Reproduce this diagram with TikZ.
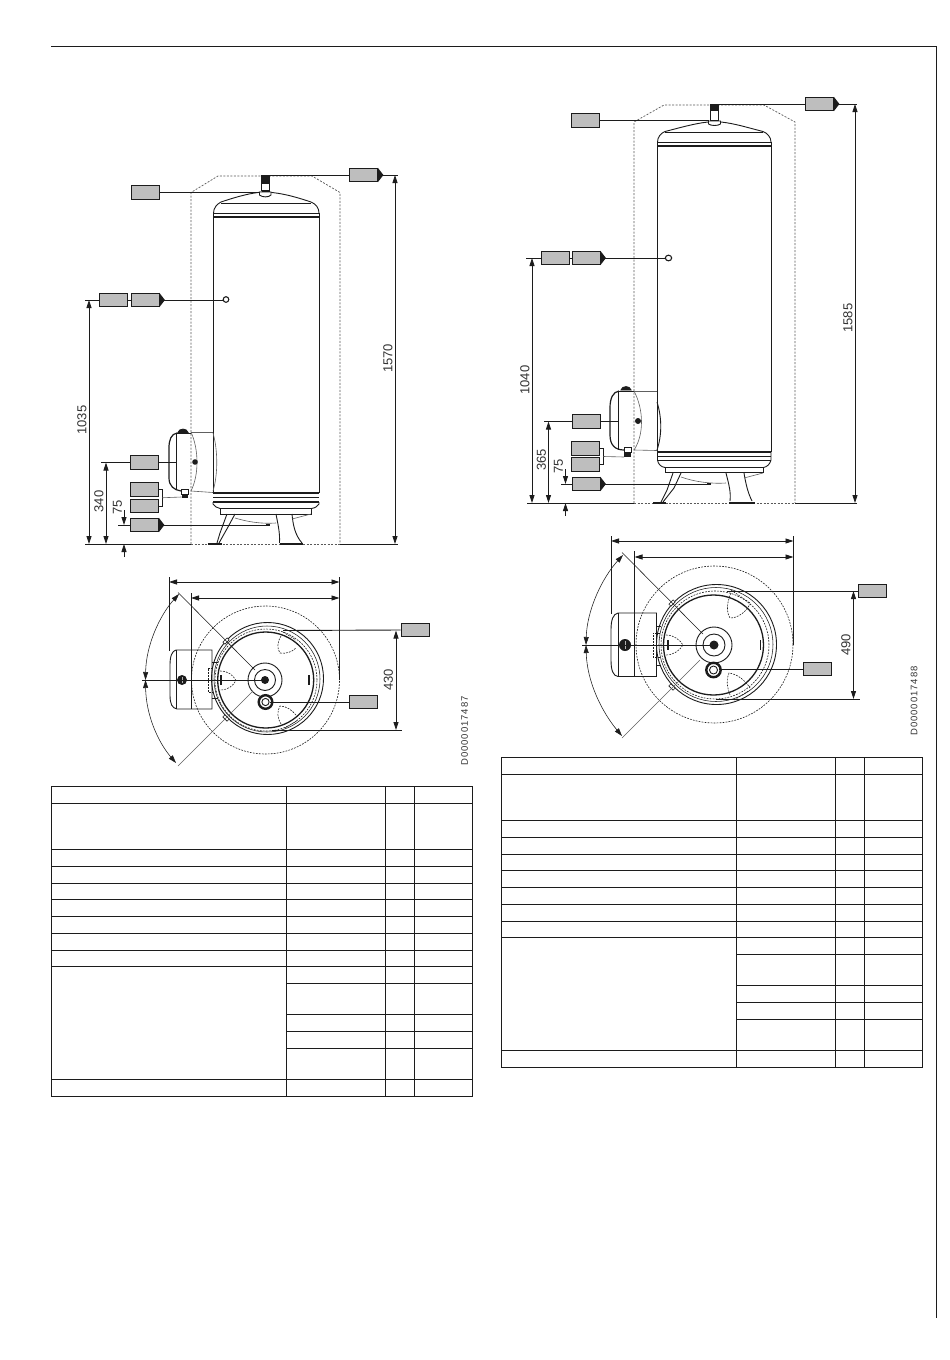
\documentclass[tikz,border=0pt]{standalone}
\usepackage{fontspec}
\setmainfont{Liberation Sans}
\newfontfamily\docfont[LetterSpace=10]{Liberation Sans}
\usetikzlibrary{arrows.meta,calc}
\definecolor{ink}{HTML}{1C1C1C}
\definecolor{boxgrey}{HTML}{BEBEBE}
\definecolor{txt}{HTML}{333333}
\newcommand{\tipR}[1]{\fill[ink] (#1.north east) -- ($(#1.east)+(5.5,0)$) -- (#1.south east) -- cycle;}
\begin{document}
\begin{tikzpicture}[x=1pt,y=-1pt,
  line cap=butt,
  ln/.style={draw=ink,line width=0.9pt},
  thin ln/.style={draw=ink,line width=0.55pt},
  thick ln/.style={draw=ink,line width=1.8pt},
  grey ln/.style={draw=gray!75!black,line width=0.6pt},
  env/.style={draw=gray!70!black,line width=0.7pt,dash pattern=on 2pt off 1.5pt},
  dsh/.style={draw=ink,line width=0.6pt,dash pattern=on 1.8pt off 1.2pt},
  greybox/.style={rectangle,draw=ink,line width=0.8pt,fill=boxgrey,minimum width=28pt,minimum height=13.5pt,inner sep=0pt},
  dimtxt/.style={font=\fontsize{13}{13}\selectfont,text=txt,rotate=90,inner sep=0pt},
  doctxt/.style={font=\fontsize{9.5}{9.5}\docfont,text=txt,rotate=90,inner sep=0pt},
  dimtip/.style={line width=0.8pt,draw=ink,{Triangle[length=8pt,width=5pt]}-{Triangle[length=8pt,width=5pt]}},
  endtip/.style={line width=0.8pt,draw=ink,-{Triangle[length=8pt,width=5pt]}},
  angtip/.style={thin ln,{Triangle[length=8pt,width=5pt]}-{Triangle[length=8pt,width=5pt]}},
  tab/.style={draw=ink,line width=0.9pt}
]
\useasboundingbox[fill=white] (0,0) rectangle (950,1360);

% page frame
\coordinate (fa) at (51,46.5); \coordinate (fb) at (936.5,46.5); \coordinate (fc) at (936.5,1318);
\draw[draw=ink,line width=1pt] (fa) -- (fb) -- (fc);

%%%%%%%%%%%%%%%%%%%%% LEFT ELEVATION %%%%%%%%%%%%%%%%%%%%%
% envelope
\draw[env] (191,544) -- (191,192.5) -- (218,176) -- (312,176) -- (340,192.5) -- (340,544);
\draw[env] (191,544) -- (340,544);
% tank
\draw[ln] (213.5,213) -- (213.5,493);
\draw[ln] (319,213) -- (319,493);
\draw[ln] (213.5,213) .. controls (213.5,208) and (217,204) .. (221,202) .. controls (233,198) and (246,194) .. (258,192.5) .. controls (263,191.8) and (268,191.8) .. (272,192.5) .. controls (286,194) and (299,198) .. (311,202) .. controls (316,204) and (319,208) .. (319,213);
\draw[ln] (221,203.5) -- (311,203.5);
\draw[thin ln] (213,213) -- (319,213);
\draw[thick ln] (213,217) -- (319,217);
\draw[thick ln] (213,493) -- (319,493);
\draw[thin ln] (213,497) -- (319,497);
\draw[thick ln] (213,502) -- (319,502);
\draw[ln] (213,502) -- (213,504) .. controls (214,506) and (217,508) .. (220,508.5);
\draw[ln] (319,502) -- (319,504) .. controls (318,506) and (315,508) .. (311.5,508.5);
\draw[ln] (220,508.5) rectangle (311.5,514);
% stem and cap
\fill[ink] (261,175) rectangle (270,183);
\draw[ln,fill=white] (261.5,183) rectangle (269.5,190);
\fill[ink] (261.5,189.5) rectangle (269.5,191.5);
\draw[ln,fill=white] (259.5,192) -- (271,192) -- (271,195) .. controls (269,197.5) and (262,197.5) .. (259.5,195) -- cycle;
% feet
\draw[ln] (227,514) -- (220,533) -- (217,543);
\draw[ln] (235,514) -- (228,527) -- (219,543);
\draw[thick ln] (208,544) -- (222,544);
\draw[ln] (276,514) .. controls (278,525) and (280,532) .. (279.5,543);
\draw[ln] (292,514) .. controls (293,525) and (295,535) .. (302,543);
\draw[thick ln] (280,544) -- (303,544);
\draw[grey ln] (235,518) .. controls (248,522) and (262,524) .. (276,523);
\draw[grey ln] (292,519) -- (311,514);
% heater module
\draw[draw=ink,line width=1.2pt] (177,433) .. controls (171,434) and (169,440) .. (169,448) -- (169,478) .. controls (169,486) and (174,490) .. (181,491);
\draw[ln] (176.5,433) -- (176.5,490);
\draw[ln,fill=ink] (178,432.5) .. controls (179,428) and (187,428) .. (188,432.5) -- cycle;
\draw[ln] (176.5,433) -- (191,433);
\draw[grey ln] (191,432) -- (213,432);
\draw[grey ln] (191,491) -- (213,492.5);
\draw[grey ln] (191,432) .. controls (199,450) and (199,475) .. (191,491);
\draw[grey ln] (213,433) .. controls (218,450) and (218,475) .. (213,491);
\fill[ink] (195,462) circle[radius=2.8pt];
\draw[ln,fill=white] (181.5,489) rectangle (188,494);
\fill[ink] (181.5,493.5) rectangle (188,497.5);
\draw[draw=ink,line width=1.1pt,fill=white] (226,299.5) circle[radius=2.8pt];

% boxes
\node[greybox] (L1) at (363.5,175) {};
\node[greybox] (L2) at (145,192.5) {};
\node[greybox] (L3) at (113,300) {};
\node[greybox] (L4) at (145,300) {};
\node[greybox] (L5) at (144.5,462.5) {};
\node[greybox] (L6) at (144.5,489.5) {};
\node[greybox] (L7) at (144.5,506) {};
\node[greybox] (L8) at (144.5,525) {};
\tipR{L1}\tipR{L4}\tipR{L8}
\coordinate (Ltop) at (270,175);
\coordinate (Ltopr) at (398,175);
\coordinate (Lcap) at (259.5,192.5);
\coordinate (Lsens) at (223,300);
\coordinate (Ll) at (85,300);
\coordinate (Lmod) at (176.5,462.5);
\coordinate (Lmodl) at (101,462.5);
\coordinate (Lval) at (181.5,497);
\coordinate (Lpipe) at (268,525);
\coordinate (Lpipel) at (118,525);
\coordinate (Lb1) at (85,544);
\coordinate (Lb2) at (191,544);
\coordinate (Lb3) at (340,544);
\coordinate (Lb4) at (398,544);
\draw[ln] (Ltop) -- (L1.west);
\draw[ln] (L1.east) -- (Ltopr);
\draw[ln] (L2.east) -- (Lcap);
\draw[ln] (L4.east) -- (Lsens);
\draw[ln] (L3.east) -- (L4.west);
\draw[ln] (Ll) -- (L3.west);
\draw[ln] (L5.east) -- (Lmod);
\draw[ln] (Lmodl) -- (L5.west);
\draw[ln] (L6.east) -- ++(3.5,0) |- (L7.east);
\draw[grey ln] ($(L6.east)!0.5!(L7.east)+(3.5,0)$) -- (Lval);
\draw[ln] (L8.east) -- (Lpipe);
\draw[ln] (Lpipel) -- (L8.west);
\fill[ink] (266,523.5) rectangle (270,526);
\draw[ln] (Lb1) -- (Lb2);
\draw[ln] (Lb3) -- (Lb4);
% dims
\coordinate (Ld1a) at (395,175); \coordinate (Ld1b) at (395,544);
\draw[dimtip] (Ld1a) -- (Ld1b);
\node[dimtxt] (T1570) at (388,358.5) {1570};
\coordinate (Ld2a) at (89,300); \coordinate (Ld2b) at (89,544);
\draw[dimtip] (Ld2a) -- (Ld2b);
\node[dimtxt] (T1035) at (82,420) {1035};
\coordinate (Ld3a) at (106,462.5); \coordinate (Ld3b) at (106,544);
\draw[dimtip] (Ld3a) -- (Ld3b);
\node[dimtxt] (T340) at (99,501.5) {340};
\coordinate (Ld4a) at (124,510); \coordinate (Ld4b) at (124,525);
\coordinate (Ld4c) at (124,557); \coordinate (Ld4d) at (124,544);
\draw[endtip] (Ld4a) -- (Ld4b);
\draw[endtip] (Ld4c) -- (Ld4d);
\node[dimtxt] (T75a) at (117.5,507) {75};

%%%%%%%%%%%%%%%%%%%%% LEFT PLAN %%%%%%%%%%%%%%%%%%%%%
% module top view
\draw[ln,fill=white] (212,650) -- (176,650) .. controls (172,651) and (170,656) .. (170,665) -- (170,695) .. controls (170,704) and (172,708) .. (177,709) -- (212,709) -- cycle;
\draw[ln] (176.5,650) -- (176.5,709);
\draw[ln] (212,662) -- (218,662);
\draw[ln] (212,698) -- (218,698);
\fill[ink] (182,680) circle[radius=5pt];
\draw[draw=gray!60,line width=0.4pt] (179,680) -- (185,680) (182,677) -- (182,683);
% rings
\draw[dsh] (265.5,680) circle[radius=74pt];
\draw[ln] (267.5,678.5) circle[radius=56pt];
\draw[thin ln] (267,679) circle[radius=53pt];
\draw[dsh] (266,680) circle[radius=51pt];
\draw[line width=1.3pt,draw=ink] (265.7,680) circle[radius=48pt];
\draw[ln] (265,680) circle[radius=17pt];
\draw[ln] (265,680) circle[radius=10.5pt];
\fill[ink] (265,680) circle[radius=4pt];
\draw[line width=2.4pt,draw=ink,fill=white] (265.5,702) circle[radius=6.8pt];
\draw[ln] (265.5,702) circle[radius=3.6pt];
% notches, bars, cups
\draw[thin ln,fill=white,rotate around={45:(226,641)}] (223,639.5) rectangle (229,642.5);
\draw[thin ln,fill=white,rotate around={-45:(226,718)}] (223,716.5) rectangle (229,719.5);
\draw[line width=1.2pt,draw=ink] (221,675) -- (221,685);
\draw[line width=1.2pt,draw=ink] (309,675) -- (309,685);
\draw[dsh] (220,671) .. controls (228,671) and (233,675) .. (236,680.5) .. controls (233,686) and (228,690) .. (220,690);
\draw[dsh] (213,668) -- (208,668) -- (208,692) -- (213,692);
\draw[dsh] (281,636) .. controls (277,642) and (277,649) .. (280,653) .. controls (286,654) and (292,652) .. (296,648);
\draw[dsh] (283,632) -- (296,640);
\draw[dsh] (281,724) .. controls (277,718) and (277,711) .. (280,706) .. controls (286,706) and (292,710) .. (296,715);
\draw[dsh] (285,728) -- (298,720);
% plan boxes and dims
\node[greybox] (L9) at (415,630) {};
\node[greybox] (L10) at (363,702) {};
\coordinate (Lpa) at (283,630.5);
\coordinate (Lpb) at (270,702);
\coordinate (Lpc) at (272,730);
\coordinate (Lpd) at (402,730);
\draw[ln] (Lpa) -- (L9.west);
\draw[ln] (Lpb) -- (L10.west);
\draw[ln] (Lpc) -- (Lpd);
\coordinate (Ld5a) at (396,630.5); \coordinate (Ld5b) at (396,730);
\draw[dimtip] (Ld5a) -- (Ld5b);
\node[dimtxt] (T430) at (388.5,680) {430};
\coordinate (Le1a) at (169,577); \coordinate (Le1b) at (169,651);
\coordinate (Le2a) at (191,593); \coordinate (Le2b) at (191,709);
\coordinate (Le3a) at (339.5,577); \coordinate (Le3b) at (339.5,680);
\draw[ln] (Le1a) -- (Le1b);
\draw[ln] (Le2a) -- (Le2b);
\draw[ln] (Le3a) -- (Le3b);
\coordinate (Ld6a) at (169,582); \coordinate (Ld6b) at (339.5,582);
\draw[dimtip] (Ld6a) -- (Ld6b);
\coordinate (Ld7a) at (191,598); \coordinate (Ld7b) at (339.5,598);
\draw[dimtip] (Ld7a) -- (Ld7b);
\coordinate (Lra) at (178,592.5); \coordinate (Lrb) at (255,670);
\coordinate (Lrc) at (178,766); \coordinate (Lrd) at (253,691);
\draw[thin ln] (Lra) -- (Lrb);
\draw[grey ln] (Lrc) -- (Lrd);
\coordinate (Lha) at (142,680); \coordinate (Lhb) at (262,680);
\draw[ln] (Lha) -- (Lhb);
\draw[angtip] (179,594) .. controls (160,615) and (146,645) .. (145.5,680);
\draw[angtip] (145.5,680) .. controls (146,715) and (158,742) .. (176,763);
\node[doctxt] (DocL) at (464.5,731) {D0000017487};

%%%%%%%%%%%%%%%%%%%%% RIGHT ELEVATION %%%%%%%%%%%%%%%%%%%%%
\draw[env] (634,503) -- (634,122) -- (664,105) -- (764,105) -- (795,122) -- (795,503);
\draw[env] (634,503) -- (795,503);
\draw[ln] (657.5,142) -- (657.5,452);
\draw[ln] (771,142) -- (771,452);
\draw[ln] (657.5,142) .. controls (657.5,137) and (661,133) .. (665,131.5) .. controls (679,128) and (694,123.5) .. (708,122) .. controls (712,121.3) and (717,121.3) .. (721,122) .. controls (735,123.5) and (749,128) .. (763,131.5) .. controls (767,133) and (771,137) .. (771,142);
\draw[ln] (665,132.5) -- (763,132.5);
\draw[thin ln] (657,142) -- (771,142);
\draw[thick ln] (657,146) -- (771,146);
\draw[thick ln] (657,452) -- (771,452);
\draw[thin ln] (657,456) -- (771,456);
\draw[thin ln] (657,460) -- (771,460);
\draw[ln] (657.5,452) -- (657.5,460) .. controls (658,464) and (661,467) .. (665,467.5);
\draw[ln] (771,452) -- (771,460) .. controls (770,464) and (767,467) .. (763.5,467.5);
\draw[ln] (665,467.5) rectangle (763.5,472.5);
% stem
\fill[ink] (710,104) rectangle (719,110.5);
\draw[ln,fill=white] (710.5,110.5) rectangle (718.5,120);
\draw[ln,fill=white] (708.5,121) -- (720.5,121) -- (720.5,124) .. controls (718,126) and (711,126) .. (708.5,124) -- cycle;
% feet
\draw[ln] (673,473) -- (667,490) -- (661,502);
\draw[ln] (681,473) -- (674,488) -- (663,502);
\draw[thick ln] (653,503) -- (666,503);
\draw[ln] (726,473) .. controls (729,485) and (731,492) .. (730,501);
\draw[ln] (744,473) .. controls (746,485) and (748,493) .. (752,501);
\draw[thick ln] (729,503) -- (755,503);
\draw[grey ln] (681,477) .. controls (695,482) and (712,484) .. (726,483);
\draw[grey ln] (744,478) -- (763,473);
% module
\draw[draw=ink,line width=1.2pt] (619,391) .. controls (613,392) and (610,398) .. (610,408) -- (610,435) .. controls (610,445) and (615,450) .. (624,450);
\draw[ln] (618.5,391) -- (618.5,450);
\draw[ln,fill=ink] (621,390) .. controls (622,385.5) and (630,385.5) .. (631,390) -- cycle;
\draw[ln] (618.5,391) -- (634,391);
\draw[grey ln] (634,391) -- (657,391);
\draw[grey ln] (634,450) -- (657,450.5);
\draw[grey ln] (634,391) .. controls (644,410) and (644,435) .. (634,450);
\draw[ln] (657,402) .. controls (662,418) and (662,435) .. (657,450);
\fill[ink] (638,421) circle[radius=3pt];
\draw[ln,fill=white] (624,447) rectangle (631,452);
\fill[ink] (624,451.5) rectangle (631,456.5);
\draw[draw=ink,line width=1.1pt,fill=white] (668.5,258) ellipse[x radius=3.2pt,y radius=2.8pt];
% boxes
\node[greybox] (R1) at (819.5,104) {};
\node[greybox] (R2) at (585.5,120.5) {};
\node[greybox] (R3) at (555,258) {};
\node[greybox] (R4) at (586,258) {};
\node[greybox] (R5) at (586,421.5) {};
\node[greybox] (R6) at (585.5,448.5) {};
\node[greybox] (R7) at (585.5,464.5) {};
\node[greybox] (R8) at (586,484) {};
\tipR{R1}\tipR{R4}\tipR{R8}
\coordinate (Rtop) at (719,104);
\coordinate (Rtopr) at (857,104);
\coordinate (Rcap) at (708.5,120.5);
\coordinate (Rsens) at (665,258);
\coordinate (Rl) at (526,258);
\coordinate (Rmod) at (618.5,421.5);
\coordinate (Rmodl) at (544,421.5);
\coordinate (Rval) at (624,457);
\coordinate (Rpipe) at (709,484);
\coordinate (Rpipel) at (561,484);
\coordinate (Rb1) at (527,503);
\coordinate (Rb2) at (634,503);
\coordinate (Rb3) at (795,503);
\coordinate (Rb4) at (857,503);
\draw[ln] (Rtop) -- (R1.west);
\draw[ln] (R1.east) -- (Rtopr);
\draw[ln] (R2.east) -- (Rcap);
\draw[ln] (R4.east) -- (Rsens);
\draw[ln] (R3.east) -- (R4.west);
\draw[ln] (Rl) -- (R3.west);
\draw[ln] (R5.east) -- (Rmod);
\draw[ln] (Rmodl) -- (R5.west);
\draw[ln] (R6.east) -- ++(3.5,0) |- (R7.east);
\draw[grey ln] ($(R6.east)!0.5!(R7.east)+(3.5,0)$) -- (Rval);
\draw[ln] (R8.east) -- (Rpipe);
\draw[ln] (Rpipel) -- (R8.west);
\fill[ink] (707,482.5) rectangle (711,485);
\draw[ln] (Rb1) -- (Rb2);
\draw[ln] (Rb3) -- (Rb4);
% dims
\coordinate (Rd1a) at (855,104); \coordinate (Rd1b) at (855,503);
\draw[dimtip] (Rd1a) -- (Rd1b);
\node[dimtxt] (T1585) at (848,318) {1585};
\coordinate (Rd2a) at (532,258); \coordinate (Rd2b) at (532,503);
\draw[dimtip] (Rd2a) -- (Rd2b);
\node[dimtxt] (T1040) at (525,380) {1040};
\coordinate (Rd3a) at (548.5,421.5); \coordinate (Rd3b) at (548.5,503);
\draw[dimtip] (Rd3a) -- (Rd3b);
\node[dimtxt] (T365) at (541.5,460) {365};
\coordinate (Rd4a) at (565.5,469); \coordinate (Rd4b) at (565.5,484);
\coordinate (Rd4c) at (565.5,516); \coordinate (Rd4d) at (565.5,503);
\draw[endtip] (Rd4a) -- (Rd4b);
\draw[endtip] (Rd4c) -- (Rd4d);
\node[dimtxt] (T75b) at (558.5,466) {75};

%%%%%%%%%%%%%%%%%%%%% RIGHT PLAN %%%%%%%%%%%%%%%%%%%%%
% module top view
\draw[ln,fill=white] (656.5,613) -- (618,613) .. controls (613,614) and (611,620) .. (611,630) -- (611,660) .. controls (611,670) and (613,676) .. (618,676.5) -- (656.5,676.5) -- cycle;
\draw[ln] (618,613) -- (618,676.5);
\draw[ln] (657,626) -- (661,626);
\draw[ln] (657,665) -- (661,665);
\fill[ink] (625,645) circle[radius=6pt];
\draw[draw=gray!60,line width=0.4pt] (621,645) -- (629,645) (625,641) -- (625,649);
% rings
\draw[dsh] (714.5,644.5) circle[radius=78.5pt];
\draw[ln] (716.5,644.5) circle[radius=60pt];
\draw[thin ln] (716,644.5) circle[radius=57pt];
\draw[dsh] (715,645) circle[radius=54pt];
\draw[line width=1.3pt,draw=ink] (713.5,645) circle[radius=50pt];
\draw[ln] (714,645) circle[radius=18pt];
\draw[ln] (714,645) circle[radius=11pt];
\fill[ink] (714,645) circle[radius=4.5pt];
\draw[line width=2.4pt,draw=ink,fill=white] (713.5,670) circle[radius=7.2pt];
\draw[ln] (713.5,670) circle[radius=4pt];
\draw[thin ln,fill=white,rotate around={45:(672,603)}] (669,601.5) rectangle (675,604.5);
\draw[thin ln,fill=white,rotate around={-45:(672,687)}] (669,685.5) rectangle (675,688.5);
\draw[line width=1.2pt,draw=ink] (668,640) -- (668,650);
\draw[line width=1.2pt,draw=ink] (760.5,640) -- (760.5,650);
\draw[dsh] (666,635) .. controls (674,635) and (680,640) .. (683,645) .. controls (680,650) and (674,655) .. (666,655);
\draw[dsh] (660,633) -- (653,633) -- (653,657) -- (660,657);
\draw[dsh] (731,593) .. controls (727,602) and (726,612) .. (730,618) .. controls (738,618) and (746,612) .. (750,604);
\draw[dsh] (731,590) -- (750,603);
\draw[dsh] (730,695) .. controls (727,687) and (726,679) .. (729,673) .. controls (737,674) and (745,680) .. (750,688);
\draw[dsh] (734,700) -- (750,690);
% plan boxes and dims
\node[greybox] (R9) at (872,591) {};
\node[greybox] (R10) at (817.5,669) {};
\coordinate (Rpa) at (727,591);
\coordinate (Rpb) at (719,669);
\coordinate (Rpc) at (716,699);
\coordinate (Rpd) at (860,699);
\draw[ln] (Rpa) -- (R9.west);
\draw[ln] (Rpb) -- (R10.west);
\draw[ln] (Rpc) -- (Rpd);
\coordinate (Rd5a) at (853.5,591); \coordinate (Rd5b) at (853.5,699);
\draw[dimtip] (Rd5a) -- (Rd5b);
\node[dimtxt] (T490) at (846,645) {490};
\coordinate (Re1a) at (611,536); \coordinate (Re1b) at (611,614);
\coordinate (Re2a) at (634.5,551); \coordinate (Re2b) at (634.5,676.5);
\coordinate (Re3a) at (793.5,536); \coordinate (Re3b) at (793.5,645);
\draw[ln] (Re1a) -- (Re1b);
\draw[ln] (Re2a) -- (Re2b);
\draw[ln] (Re3a) -- (Re3b);
\coordinate (Rd6a) at (611,541); \coordinate (Rd6b) at (793.5,541);
\draw[dimtip] (Rd6a) -- (Rd6b);
\coordinate (Rd7a) at (634.5,557); \coordinate (Rd7b) at (793.5,557);
\draw[dimtip] (Rd7a) -- (Rd7b);
\coordinate (Rra) at (622,552.5); \coordinate (Rrb) at (703,634);
\coordinate (Rrc) at (622,738); \coordinate (Rrd) at (700,660);
\draw[thin ln] (Rra) -- (Rrb);
\draw[grey ln] (Rrc) -- (Rrd);
\coordinate (Rha) at (582,645); \coordinate (Rhb) at (711,645);
\draw[ln] (Rha) -- (Rhb);
\draw[angtip] (623,555) .. controls (602,578) and (587,610) .. (586,645);
\draw[angtip] (586,645) .. controls (587,682) and (602,712) .. (622,736);
\node[doctxt] (DocR) at (914,701) {D0000017488};

%%%%%%%%%%%%%%%%%%%%% TABLES %%%%%%%%%%%%%%%%%%%%%
% left table
\draw[tab] (51.3,786.3) rectangle (472.3,1096.3);
\foreach \cx in {286.3,385.3,414.3} \draw[tab] (\cx,786.3) -- (\cx,1096.3);
\foreach \ry in {803.3,849.3,866.3,883.3,899.3,916.3,933.3,950.3,966.3,1079.3} \draw[tab] (51.3,\ry) -- (472.3,\ry);
\foreach \ry in {983.3,1014.3,1031.3,1048.3} \draw[tab] (286.3,\ry) -- (472.3,\ry);
% right table
\draw[tab] (501.3,757.3) rectangle (922.3,1067.3);
\foreach \cx in {736.3,835.3,864.3} \draw[tab] (\cx,757.3) -- (\cx,1067.3);
\foreach \ry in {774.3,820.3,837.3,854.3,870.3,887.3,904.3,921.3,937.3,1050.3} \draw[tab] (501.3,\ry) -- (922.3,\ry);
\foreach \ry in {954.3,985.3,1002.3,1019.3} \draw[tab] (736.3,\ry) -- (922.3,\ry);
\end{tikzpicture}
\end{document}
